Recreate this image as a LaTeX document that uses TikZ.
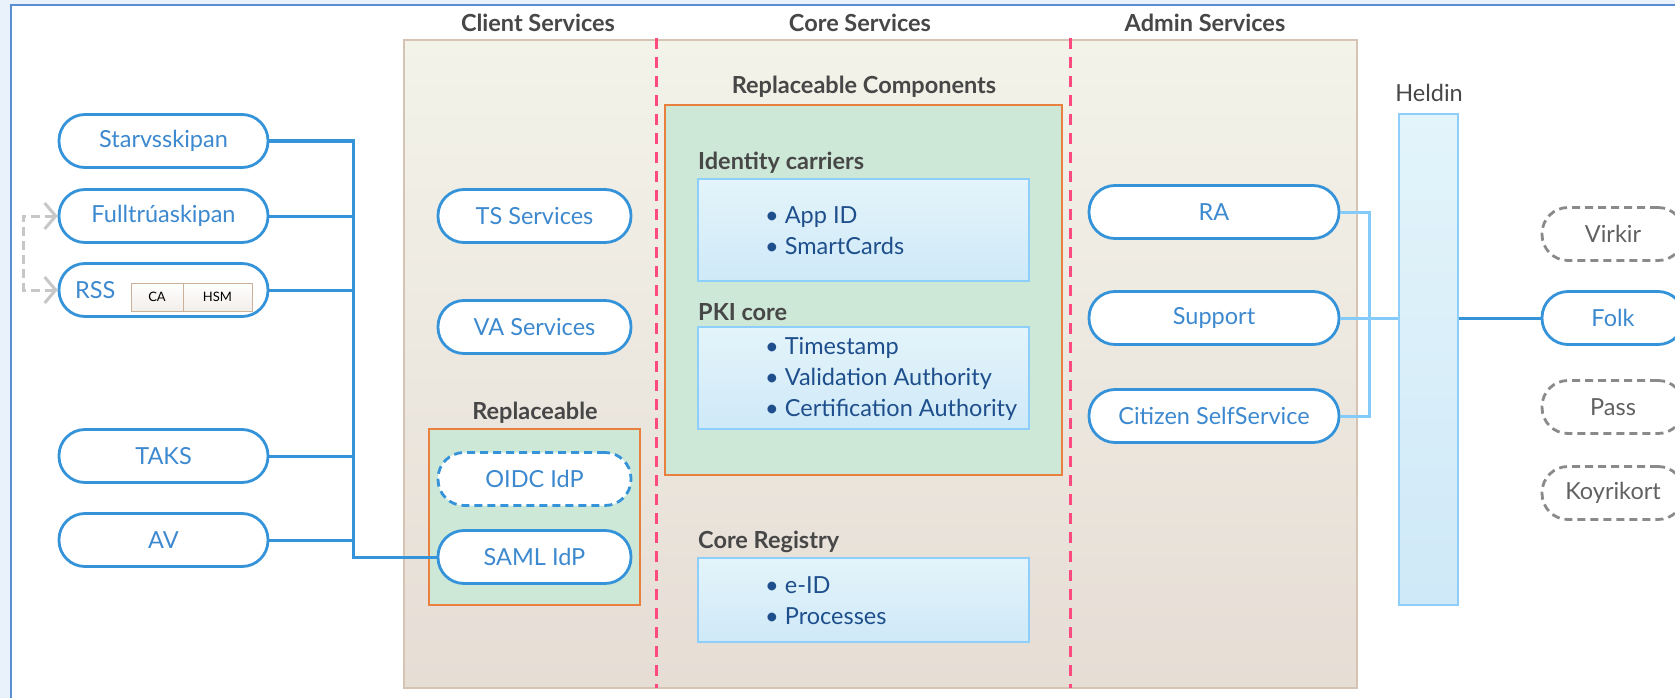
\documentclass[tikz,border=0pt]{standalone}
\usepackage{fontspec}
\setmainfont{Lato}
\usetikzlibrary{arrows.meta}

\definecolor{pillblue}{HTML}{3593DA}
\definecolor{pilltext}{HTML}{3D89CF}
\definecolor{itemtext}{HTML}{1E4F8C}
\definecolor{headgray}{HTML}{474747}
\definecolor{beigetop}{HTML}{F3F3E9}
\definecolor{beigebot}{HTML}{E6DDD5}
\definecolor{beigeline}{HTML}{D5C4B4}
\definecolor{replgreen}{HTML}{CEE8D8}
\definecolor{replorange}{HTML}{E9803F}
\definecolor{infotop}{HTML}{E3F4FA}
\definecolor{infobot}{HTML}{CFE9F8}
\definecolor{infoline}{HTML}{8DCFFA}
\definecolor{lightbus}{HTML}{84CBF9}
\definecolor{laneline}{HTML}{FF4A80}
\definecolor{ghost}{HTML}{8A8A8A}
\definecolor{framecol}{HTML}{5A8ED2}
\definecolor{outerbg}{HTML}{E9F1FB}
\definecolor{hsmfill}{HTML}{F2EEEA}
\definecolor{hsmline}{HTML}{CDB09A}

\begin{document}
\begin{tikzpicture}[x=1pt, y=-1pt,
  pill/.style={draw=pillblue, line width=2.8pt, fill=white, rounded corners=26pt,
    minimum height=53pt, inner sep=0pt, text=pilltext, font=\fontsize{23.5}{23.5}\selectfont},
  ghostpill/.style={pill, draw=ghost, dash pattern=on 8pt off 5pt, text=ghost!70!black, minimum width=142pt},
  head/.style={text=headgray, font=\fontsize{23.5}{23.5}\selectfont\bfseries},
  infobox/.style={draw=infoline, line width=1.5pt, top color=infotop, bottom color=infobot},
  replbox/.style={draw=replorange, line width=1.8pt, fill=replgreen},
  items/.style={anchor=west, align=left, inner sep=0pt, text=itemtext, font=\fontsize{23.5}{31}\selectfont},
  hsmbox/.style={draw=hsmline, line width=1pt, top color=white, bottom color=hsmfill,
    minimum height=28pt, inner sep=0pt, font=\fontsize{13}{13}\selectfont},
  bus/.style={draw=pillblue, line width=3pt},
  lightline/.style={draw=lightbus, line width=3pt},
  lane/.style={draw=laneline, line width=3pt, dash pattern=on 11pt off 8pt},
  ghostarrow/.style={draw=black!22, line width=3pt, dash pattern=on 9pt off 5pt,
    {Straight Barb[length=11pt,width=26pt]}-{Straight Barb[length=11pt,width=26pt]}}]

\useasboundingbox (0,0) rectangle (1675,698);
\clip (0,0) rectangle (1675,698);
\fill[outerbg] (0,0) rectangle (1675,698);
\draw[framecol, line width=2pt, fill=white] (11,5) rectangle (1700,720);

\draw[draw=beigeline, line width=1.5pt, top color=beigetop, bottom color=beigebot] (404,40) rectangle (1357,688);
\draw[lane] (656,38) -- (656,688);
\draw[lane] (1070,38) -- (1070,688);

\node[head] (clienthead) at (538,23) {Client Services};
\node[head] (corehead) at (860,23) {Core Services};
\node[head] (adminhead) at (1205,23) {Admin Services};

\draw[replbox] (665,105) rectangle (1062,475);
\node[head] (replhead) at (864,87) {Replaceable Components};
\node[head, anchor=west, inner sep=0pt] (idhead) at (698,163) {Identity carriers};
\draw[infobox] (698,179) rectangle (1029,281);
\node[items] (idlist) at (765,231) {\textbullet\ App ID\\\textbullet\ SmartCards};
\node[head, anchor=west, inner sep=0pt] (pkihead) at (698,312) {PKI core};
\draw[infobox] (698,327) rectangle (1029,429);
\node[items] (pkilist) at (765,379) {\textbullet\ Timestamp\\\textbullet\ Validation Authority\\\textbullet\ Certification Authority};
\node[head, anchor=west, inner sep=0pt] (reghead) at (698,542) {Core Registry};
\draw[infobox] (698,558) rectangle (1029,642);
\node[items] (reglist) at (765,601) {\textbullet\ e-ID\\\textbullet\ Processes};

\draw[replbox] (429,429) rectangle (640,605);
\node[head] (smallrepl) at (535,413) {Replaceable};

\node[pill, minimum width=209pt] (starv) at (163.5,141) {Starvsskipan};
\node[pill, minimum width=209pt] (fulltrua) at (163.5,216) {Fulltrúaskipan};
\node[pill, minimum width=209pt] (rss) at (163.5,290) {};
\node[anchor=west, inner sep=0pt, text=pilltext, font=\fontsize{23.5}{23.5}\selectfont] (rsslabel) at (75,290) {RSS};
\node[hsmbox, minimum width=52pt] (ca) at (157,297) {CA};
\node[hsmbox, minimum width=69pt] (hsm) at (217.5,297) {HSM};
\node[pill, minimum width=209pt] (taks) at (163.5,456) {TAKS};
\node[pill, minimum width=209pt] (av) at (163.5,540) {AV};

\node[pill, minimum width=193pt] (ts) at (534.5,216) {TS Services};
\node[pill, minimum width=193pt] (va) at (534.5,327) {VA Services};
\node[pill, minimum width=193pt, dash pattern=on 8pt off 5pt] (oidc) at (534.5,479) {OIDC IdP};
\node[pill, minimum width=193pt] (saml) at (534.5,557) {SAML IdP};

\node[pill, minimum width=250pt] (ra) at (1214,212) {RA};
\node[pill, minimum width=250pt] (support) at (1214,318) {Support};
\node[pill, minimum width=250pt] (citizen) at (1214,416) {Citizen SelfService};

\node[text=headgray, font=\fontsize{23.5}{23.5}\selectfont] (heldinlabel) at (1429,93) {Heldin};
\node[draw=infoline, line width=1.5pt, top color=infotop, bottom color=infobot,
  minimum width=59pt, minimum height=491pt, inner sep=0pt] (heldin) at (1428.5,359.5) {};

\node[ghostpill] (virkir) at (1613,234) {Virkir};
\node[pill, minimum width=142pt] (folk) at (1613,318) {Folk};
\node[ghostpill] (pass) at (1613,407) {Pass};
\node[ghostpill] (koyri) at (1613,493) {Koyrikort};

\coordinate (bustop) at (353,141);
\coordinate (busbot) at (353,557);
\draw[bus] (starv.east) -- (bustop) -- (busbot) -- (saml.west);
\foreach \n in {fulltrua,rss,taks,av}
  \draw[bus] (\n.east) -- (\n.east -| bustop);

\draw[ghostarrow] (fulltrua.west) -- ++(-34,0) |- (rss.west);

\coordinate (adminbus) at (1369,212);
\draw[lightline] (ra.east) -- (ra.east -| adminbus) -- (citizen.east -| adminbus) -- (citizen.east);
\draw[lightline] (support.east) -- (support.east -| heldin.west);
\draw[bus] (heldin.east |- folk.west) -- (folk.west);
\end{tikzpicture}
\end{document}
